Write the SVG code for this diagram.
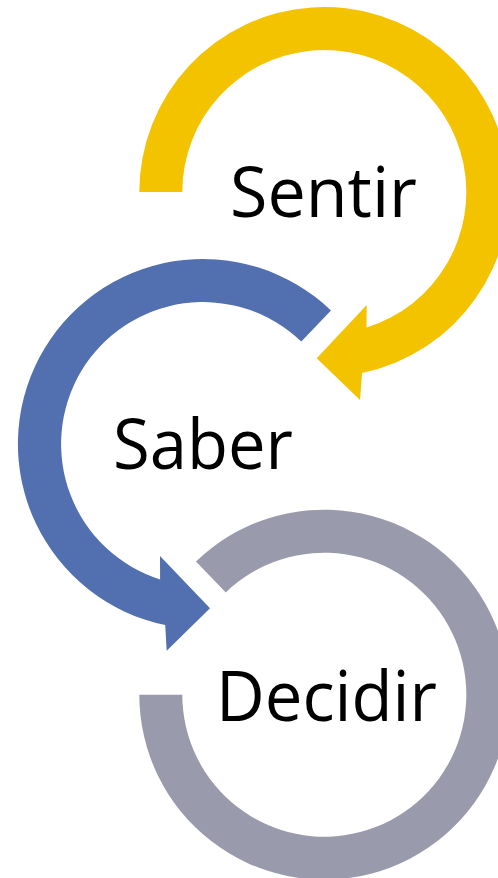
<svg xmlns="http://www.w3.org/2000/svg" width="498" height="878" viewBox="0 0 498 878">
  <style>
    .lbl { font-family: "Open Sans", "Noto Sans", "Liberation Sans", sans-serif; font-size: 70px; fill: #000000; }
    .yellow { fill: #F4C300; }
    .blue { fill: #526FB0; }
    .gray { fill: #9A9AAD; }
  </style>
  <rect width="498" height="878" fill="#FFFFFF"/>
  <g id="node-decidir">
    <path class="gray" d="M 196.0 561.4 A 185 185 0 1 1 139.3 694.7 L 182.3 694.7 A 142 142 0 1 0 225.8 592.4 Z"/>
    <text class="lbl" x="216" y="721" textLength="221" lengthAdjust="spacingAndGlyphs">Decidir</text>
  </g>
  <g id="node-saber">
    <path class="blue" d="M 331.0 310.5 A 185 185 0 1 0 165.2 625.1 L 166.7 650.7 L 210 608.3 L 160 556 L 160.1 579.4 A 142 142 0 1 1 301.3 341.5 Z"/>
    <text class="lbl" x="113" y="469" textLength="180" lengthAdjust="spacingAndGlyphs">Saber</text>
  </g>
  <g id="node-sentir">
    <path class="yellow" d="M 139.3 192 A 185 185 0 1 1 362.1 373.1 L 360 400 L 316.7 358.3 L 366.7 305 L 366.5 327.6 A 142 142 0 1 0 182.3 192 Z"/>
    <text class="lbl" x="230" y="217" textLength="187" lengthAdjust="spacingAndGlyphs">Sentir</text>
  </g>
  <g id="connectors"/>
</svg>
